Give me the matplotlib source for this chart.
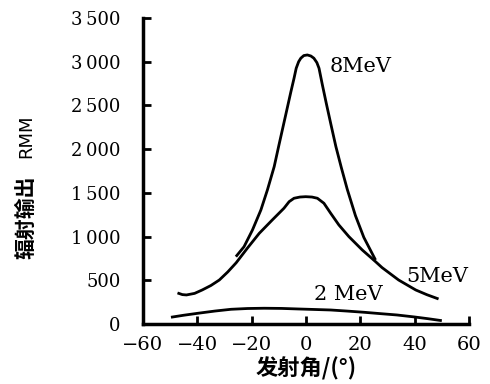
import matplotlib
matplotlib.use("Agg")
import matplotlib.pyplot as plt

# 发射角 (°) 与辐射输出
angle_8mev = [-25.8, -22.8, -19.7, -16.6, -14.2, -11.7, -10.0, -8.7, -7.4, -5.6, -4.4, -3.6, -2.7, -1.9, -0.8, 0.5,
              1.8, 2.9, 4.0, 4.8, 6.0, 7.5, 9.2, 11.0, 13.0, 15.2, 18.2, 21.3, 25.6]
out_8mev = [770, 884, 1075, 1304, 1533, 1800, 2040, 2220, 2400, 2650, 2810, 2925, 3000, 3040, 3070, 3077,
            3065, 3040, 2990, 2925, 2740, 2520, 2280, 2030, 1790, 1540, 1240, 990, 732]

angle_5mev = [-47.3, -45.5, -44.0, -41.0, -38.2, -35.0, -31.9, -28.8, -25.7, -21.5, -17.2, -12.4, -8.1, -6.2, -4.4,
              -2.2, -0.1, 2.2, 4.2, 6.6, 9.1, 12.1, 15.8, 20.7, 25.6, 28.0, 34.1, 40.4, 44.5, 48.8]
out_5mev = [355, 336, 332, 350, 389, 440, 503, 595, 700, 870, 1037, 1190, 1324, 1399, 1438,
            1452, 1456, 1452, 1438, 1381, 1266, 1133, 999, 847, 713, 645, 503, 389, 335, 286]

angle_2mev = [-49.7, -45.0, -39.9, -33.5, -27.6, -21.5, -15.4, -9.0, -3.2, 3.0, 9.1, 15.0, 21.3, 27.5, 33.5, 40.0, 45.0, 50.0]
out_2mev = [77, 100, 122, 148, 168, 177, 180, 178, 172, 166, 160, 148, 134, 118, 103, 80, 60, 38]

x_ticks = [-60, -40, -20, 0, 20, 40, 60]
y_ticks = [0, 500, 1000, 1500, 2000, 2500, 3000, 3500]
y_labels = ["0", "500", "1\u2009000", "1\u2009500", "2\u2009000", "2\u2009500", "3\u2009000", "3\u2009500"]

cjk = ["Noto Sans CJK SC", "DejaVu Sans"]

fig = plt.figure(figsize=(4.9, 3.84), dpi=100)
ax = fig.add_axes([0.2918, 0.1563, 0.6653, 0.7969])

lw = 2.0
ax.plot(angle_8mev, out_8mev, color="black", lw=lw, solid_capstyle="butt", solid_joinstyle="round")
ax.plot(angle_5mev, out_5mev, color="black", lw=lw, solid_capstyle="butt", solid_joinstyle="round")
ax.plot(angle_2mev, out_2mev, color="black", lw=lw, solid_capstyle="butt", solid_joinstyle="round")

ax.text(8.6, 2950, "8MeV", family="DejaVu Serif", fontsize=15, va="center", ha="left")
ax.text(37, 540, "5MeV", family="DejaVu Serif", fontsize=15, va="center", ha="left")
ax.text(2.8, 335, "2 MeV", family="DejaVu Serif", fontsize=15, va="center", ha="left")

ax.set_xlim(-60, 60)
ax.set_ylim(0, 3500)
ax.set_xticks(x_ticks)
ax.set_xticklabels([str(v).replace("-", "\u2212") for v in x_ticks], family="DejaVu Serif", fontsize=14)
ax.set_yticks(y_ticks)
ax.set_yticklabels(y_labels, family="DejaVu Serif", fontsize=13)
ax.tick_params(axis="both", direction="in", length=6, width=2, color="black")
ax.tick_params(axis="y", pad=16)
ax.tick_params(axis="x", pad=9)

for s in ["top", "right"]:
    ax.spines[s].set_visible(False)
for s in ["left", "bottom"]:
    ax.spines[s].set_linewidth(2.5)
    ax.spines[s].set_capstyle("projecting")

ax.set_xlabel("发射角/(°)", family=cjk, fontsize=16, fontweight="bold", labelpad=2)

fig.text(26 / 490, 1 - 217 / 384, "辐射输出", family=cjk, fontsize=15, fontweight="bold",
         rotation=90, ha="center", va="center")
fig.text(26 / 490, 1 - 136 / 384, "RMM", family="DejaVu Sans", fontsize=13,
         rotation=90, ha="center", va="center")

fig.savefig("out.png", dpi=100)
